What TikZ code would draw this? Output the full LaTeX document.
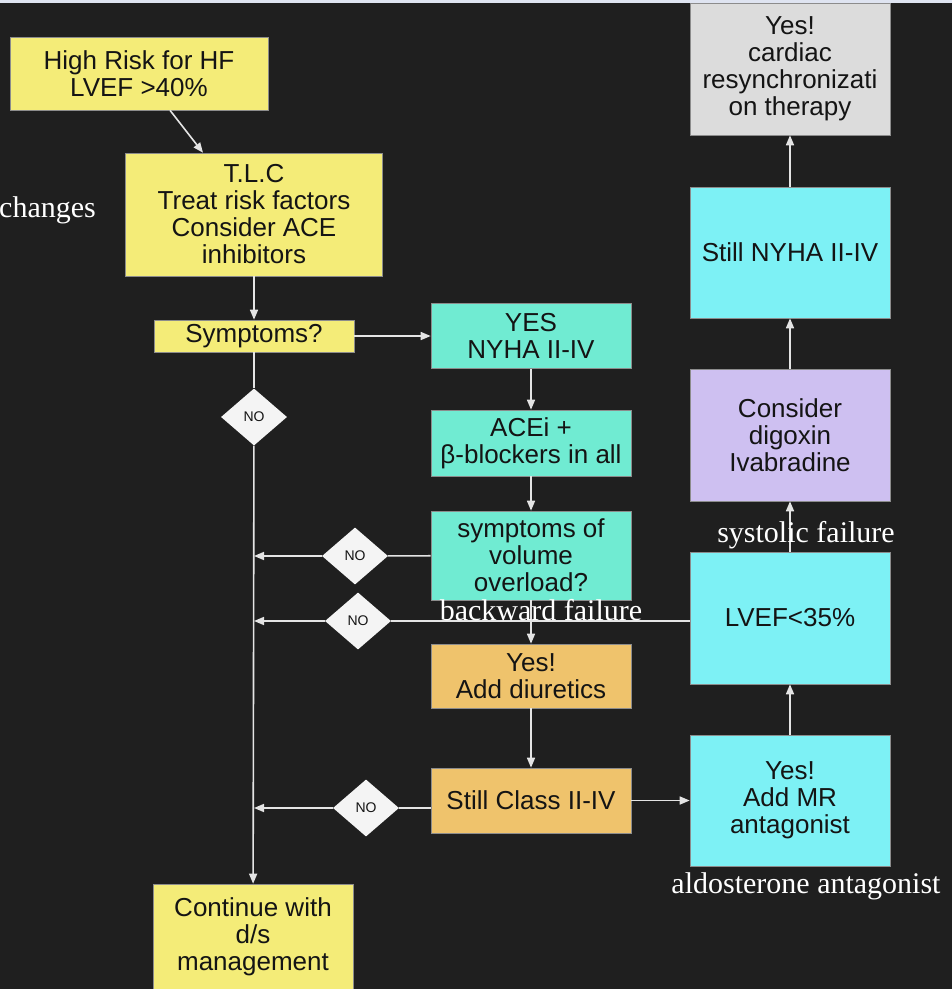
\documentclass[tikz,border=0pt]{standalone}
\usepackage{fontspec}
\newfontfamily\boxfont{Liberation Sans}
\newfontfamily\notefont{Liberation Serif}
\usetikzlibrary{arrows.meta,shapes.geometric,positioning}

\definecolor{bgdark}{HTML}{1F1F1F}
\definecolor{topstrip}{HTML}{DFE4F1}
\definecolor{hfyellow}{HTML}{F4EC78}
\definecolor{hfmint}{HTML}{70EBD2}
\definecolor{hforange}{HTML}{EFC36C}
\definecolor{hfcyan}{HTML}{7DF1F5}
\definecolor{hflilac}{HTML}{CEC0F1}
\definecolor{hfgrey}{HTML}{DCDCDC}
\definecolor{diamwhite}{HTML}{F4F4F4}
\definecolor{linegray}{HTML}{E4E4E4}
\definecolor{boxtext}{HTML}{141414}

\begin{document}
\begin{tikzpicture}[x=1pt, y=-1pt,
    box/.style={draw=black!45, line width=0.6pt, minimum width=200pt, minimum height=65pt, inner sep=2pt, align=center, text=boxtext, font=\boxfont\fontsize{26}{27}\selectfont},
    nodiam/.style={diamond, fill=diamwhite, minimum width=66pt, minimum height=57pt, inner sep=0pt, text=boxtext, font=\boxfont\fontsize{14}{16}\selectfont},
    arr/.style={-{Triangle[length=10pt, width=8pt]}, line width=1.6pt, draw=linegray},
    link/.style={line width=1.6pt, draw=linegray},
    note/.style={text=white, inner sep=0pt, font=\notefont\fontsize{30}{32}\selectfont}
]
\fill[bgdark] (0,0) rectangle (952,989);
\fill[topstrip] (0,0) rectangle (952,3);
\useasboundingbox (0,0) rectangle (952,989);

% left column
\node[box, fill=hfyellow, minimum width=258pt, minimum height=73pt] (risk) at (139,73.5) {High Risk for HF\\LVEF >40\%};
\node[box, fill=hfyellow, minimum width=257pt, minimum height=123pt] (tlc) at (254,214.5) {T.L.C\\Treat risk factors\\Consider ACE\\inhibitors};
\node[box, fill=hfyellow, minimum height=32pt] (symp) at (254,336) {Symptoms?};
\node[nodiam] (no1) at (254,417) {NO};
\node[box, fill=hfyellow, minimum height=106pt] (cont) at (253,937) {Continue with\\d/s\\management};

% middle column
\node[box, fill=hfmint] (yes) at (531,336) {YES\\NYHA II-IV};
\node[box, fill=hfmint, minimum height=66pt] (acei) at (531,443) {ACEi +\\β-blockers in all};
\node[box, fill=hfmint, minimum height=89pt] (vol) at (531,555.5) {symptoms of\\volume\\overload?};
\node[box, fill=hforange, minimum height=64pt] (diur) at (531,676) {Yes!\\Add diuretics};
\node[box, fill=hforange] (still) at (531,800.5) {Still Class II-IV};
\node[nodiam] (no2) at (355,556) {NO};
\node[nodiam] (no3) at (358,621) {NO};
\node[nodiam] (no4) at (366,808) {NO};

% right column
\node[box, fill=hfgrey, minimum height=132pt] (crt) at (790,69) {Yes!\\cardiac\\resynchronizati\\on therapy};
\node[box, fill=hfcyan, minimum height=131pt] (nyha) at (790,252.5) {Still NYHA II-IV};
\node[box, fill=hflilac, minimum height=132pt] (dig) at (790,435) {Consider\\digoxin\\Ivabradine};
\node[box, fill=hfcyan, minimum height=132pt] (lvef) at (790,618) {LVEF<35\%};
\node[box, fill=hfcyan, minimum height=131pt] (mr) at (790,800.5) {Yes!\\Add MR\\antagonist};

% connectors
\draw[arr] ([xshift=31pt]risk.south) -- ([xshift=-51pt]tlc.north);
\draw[arr] (tlc) -- (symp);
\draw[arr] (symp) -- (yes);
\draw[link] (symp) -- (no1);
\draw[arr] (no1) -- (cont);
\draw[arr] (yes) -- (acei);
\draw[arr] (acei) -- (vol);
\draw[arr] (vol) -- (diur);
\draw[arr] (diur) -- (still);
\draw[link] (vol) -- (no2);
\draw[arr] (no2) -- (no1 |- no2);
\draw[link] (lvef.west |- no3) -- (no3);
\draw[arr] (no3) -- (no1 |- no3);
\draw[link] (still.west |- no4) -- (no4);
\draw[arr] (no4) -- (no1 |- no4);
\draw[arr] (still) -- (mr);
\draw[arr] (mr) -- (lvef);
\draw[arr] (lvef) -- (dig);
\draw[arr] (dig) -- (nyha);
\draw[arr] (nyha) -- (crt);

% side notes
\node[note, anchor=west] (chg) at (-1,210) {changes};
\node[note] (sys) at (806,535) {systolic failure};
\node[note] (bwd) at (541,610) {backward failure};
\node[note] (ald) at (806,886) {aldosterone antagonist};
\end{tikzpicture}
\end{document}
